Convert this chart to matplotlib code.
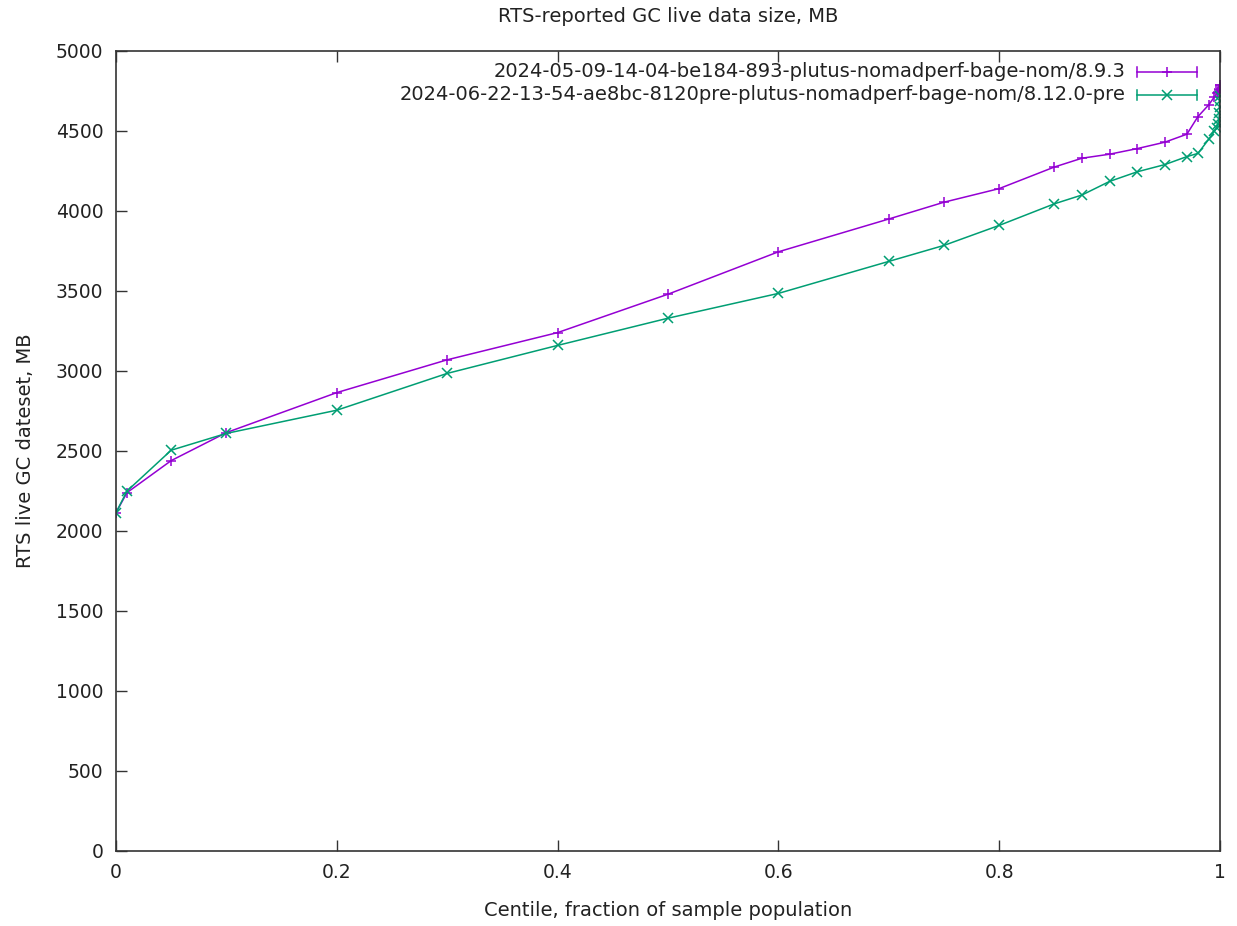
import matplotlib
matplotlib.use("Agg")
import matplotlib.pyplot as plt
from matplotlib.lines import Line2D

centiles = [0.0, 0.01, 0.05, 0.1, 0.2, 0.3, 0.4, 0.5, 0.6, 0.7, 0.75, 0.8, 0.85,
            0.875, 0.9, 0.925, 0.95, 0.97, 0.98, 0.99, 0.995, 0.997, 0.998,
            0.999, 0.9995, 0.9998, 0.9999, 1.0]

series_a_label = "2024-05-09-14-04-be184-893-plutus-nomadperf-bage-nom/8.9.3"
series_a = [2115, 2240, 2440, 2615, 2865, 3070, 3240, 3480, 3745, 3950, 4055, 4140,
            4275, 4330, 4355, 4390, 4430, 4480, 4590, 4665, 4715, 4735, 4745,
            4755, 4765, 4775, 4785, 4790]

series_b_label = "2024-06-22-13-54-ae8bc-8120pre-plutus-nomadperf-bage-nom/8.12.0-pre"
series_b = [2115, 2250, 2505, 2610, 2755, 2985, 3160, 3330, 3485, 3685, 3785, 3910,
            4045, 4100, 4185, 4245, 4290, 4340, 4360, 4450, 4500, 4520, 4545,
            4575, 4610, 4650, 4690, 4720]

x_ticks = [0, 0.2, 0.4, 0.6, 0.8, 1]
x_tick_labels = ["0", "0.2", "0.4", "0.6", "0.8", "1"]
y_ticks = list(range(0, 5001, 500))

title = "RTS-reported GC live data size, MB"
xlabel = "Centile, fraction of sample population"
ylabel = "RTS live GC dateset, MB"

col_a = "#9400d3"
col_b = "#009e73"
txt = "#222222"

plt.rcParams['font.family'] = ['DejaVu Sans']
plt.rcParams['text.color'] = txt
fig = plt.figure(figsize=(12.37, 9.26), dpi=100)
ax = fig.add_axes([116/1237, 75/926, 1104/1237, 800/926])

ax.plot(centiles, series_a, color=col_a, marker='+', markersize=7, lw=1.1, mew=1.1)
ax.plot(centiles, series_b, color=col_b, marker='x', markersize=6.5, lw=1.1, mew=1.1)

ax.set_xlim(0, 1)
ax.set_ylim(0, 5000)
ax.set_xticks(x_ticks)
ax.set_xticklabels(x_tick_labels)
ax.set_yticks(y_ticks)
ax.tick_params(direction='in', length=8, width=1, top=True, right=False,
               labelsize=13.5, pad=9, colors='#333333', labelcolor=txt)
for s in ax.spines.values():
    s.set_linewidth(1.2)
    s.set_color('#333333')

ax.set_title(title, fontsize=14, pad=21, color=txt)
ax.set_xlabel(xlabel, fontsize=14, labelpad=13, color=txt)
ax.set_ylabel(ylabel, fontsize=14, labelpad=15, color=txt)

# legend drawn in gnuplot style
tx = 0.914
x0, x1 = 0.925, 0.979
for yy, lab, col, mk, ms in [(0.974, series_a_label, col_a, '+', 7),
                             (0.945, series_b_label, col_b, 'x', 6.5)]:
    ax.text(tx, yy, lab, transform=ax.transAxes, ha='right', va='center', fontsize=14, color=txt)
    ax.add_line(Line2D([x0, x1], [yy, yy], transform=ax.transAxes, color=col, lw=1.1))
    ax.add_line(Line2D([x0, x0], [yy - 0.006, yy + 0.006], transform=ax.transAxes, color=col, lw=1.1))
    ax.add_line(Line2D([x1, x1], [yy - 0.006, yy + 0.006], transform=ax.transAxes, color=col, lw=1.1))
    ax.add_line(Line2D([(x0 + x1) / 2], [yy], transform=ax.transAxes, color=col,
                       marker=mk, markersize=ms, mew=1.1, lw=0))

fig.savefig("out.png", dpi=100)
